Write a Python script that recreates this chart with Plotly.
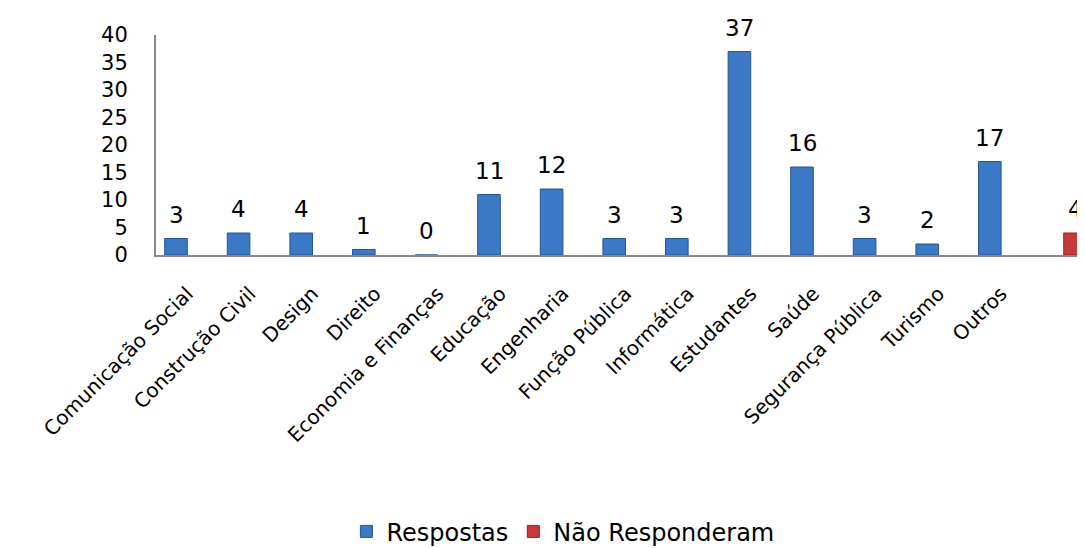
import plotly.graph_objects as go

categories = ["Comunicação Social", "Construção Civil", "Design", "Direito",
              "Economia e Finanças", "Educação", "Engenharia", "Função Pública",
              "Informática", "Estudantes", "Saúde", "Segurança Pública",
              "Turismo", "Outros", " "]
respostas = [3, 4, 4, 1, 0, 11, 12, 3, 3, 37, 16, 3, 2, 17, None]
nao_responderam = [None] * 14 + [4]

blue = "#3b78c6"
blue_line = "#26558f"
red = "#c83a3a"
red_line = "#8f2424"
font_family = "DejaVu Sans, Arial, sans-serif"

fig = go.Figure()
fig.add_trace(go.Bar(x=categories, y=respostas, name="Respostas",
                     marker=dict(color=blue, line=dict(color=blue_line, width=1))))
fig.add_trace(go.Bar(x=categories, y=nao_responderam, name="Não Responderam",
                     marker=dict(color=red, line=dict(color=red_line, width=1))))

bargap = 0.278
half = (1 - bargap) / 4
annotations = []
for i, v in enumerate(respostas):
    if v is not None:
        annotations.append(dict(x=i - half, y=v, xref="x", yref="y", text=str(v),
                                showarrow=False, yanchor="middle", yshift=24,
                                font=dict(size=23, color="#000", family=font_family)))
for i, v in enumerate(nao_responderam):
    if v is not None:
        annotations.append(dict(x=i + half, y=v, xref="x", yref="y", text=str(v),
                                showarrow=False, yanchor="middle", yshift=24,
                                font=dict(size=23, color="#000", family=font_family)))

# page body has an 8px margin: compensate so the plot sits where the reference has it
fig.update_layout(
    width=1077, height=540,
    margin=dict(l=148, r=0, t=27, b=293, autoexpand=False),
    plot_bgcolor="white", paper_bgcolor="white",
    barmode="group", bargap=bargap, bargroupgap=0,
    font=dict(family=font_family, size=21, color="#000"),
    showlegend=True,
    legend=dict(orientation="h", x=0.438, xanchor="center",
                yref="container", y=0.03, yanchor="middle",
                font=dict(size=24), itemwidth=30, traceorder="normal"),
    annotations=annotations,
)
fig.update_xaxes(type="category", range=[-0.5, 14.34], tickangle=-45,
                 showline=True, linecolor="#888", linewidth=2, showgrid=False,
                 ticks="", tickfont=dict(size=20), ticklabelstandoff=17,
                 automargin=False)
fig.update_yaxes(range=[0, 40], dtick=5, showline=True, linecolor="#888", linewidth=2,
                 showgrid=False, zeroline=False, ticks="", tickfont=dict(size=21),
                 ticklabelstandoff=22, automargin=False)

fig.write_html("out.html")
